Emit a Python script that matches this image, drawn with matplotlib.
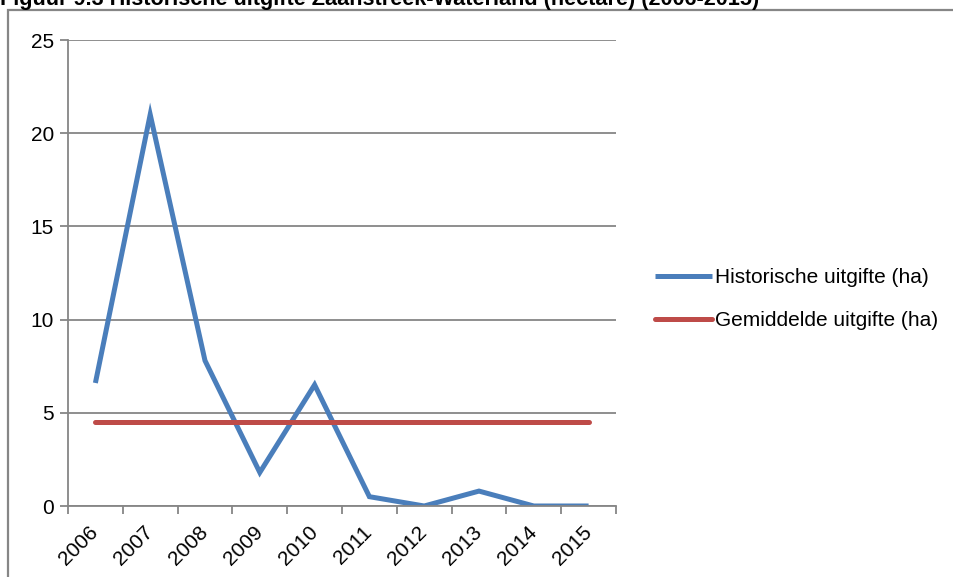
import matplotlib.pyplot as plt
from matplotlib.patches import Rectangle

plt.rcParams['font.family'] = ['Liberation Sans', 'DejaVu Sans']

years = ['2006', '2007', '2008', '2009', '2010', '2011', '2012', '2013', '2014', '2015']
historisch = [6.6, 21.0, 7.8, 1.8, 6.5, 0.5, 0.0, 0.8, 0.0, 0.0]
gemiddeld = [4.5] * len(years)

blue = '#4A7EBB'
red = '#BE4B48'
grey = '#868686'

fig = plt.figure(figsize=(9.54, 5.77), dpi=100)
ax = fig.add_axes([68 / 954, 1 - 506 / 577, (616 - 68) / 954, (506 - 40) / 577])

x = list(range(len(years)))
ax.plot(x, historisch, color=blue, lw=3.6, solid_capstyle='butt',
        solid_joinstyle='miter', label='Historische uitgifte (ha)')
ax.plot(x, gemiddeld, color=red, lw=3.6, solid_capstyle='round',
        label='Gemiddelde uitgifte (ha)')

ax.set_xlim(-0.5, len(years) - 0.5)
ax.set_ylim(0, 25)
ax.set_yticks(range(0, 26, 5))
ax.yaxis.grid(True, color=grey, lw=1.3)
ax.set_axisbelow(True)

# category ticks sit between the years, labels at the centres
ax.set_xticks([i - 0.5 for i in range(len(years) + 1)])
ax.set_xticklabels([])
ax.set_xticks(x, minor=True)
ax.set_xticklabels(years, minor=True, rotation=45, ha='right', va='center',
                   rotation_mode='anchor', fontsize=15)
ax.tick_params(axis='x', which='minor', length=0, pad=17)
ax.tick_params(axis='x', which='major', length=6, width=1.3, color=grey)
ax.tick_params(axis='y', length=6, width=1.3, color=grey, labelsize=15, pad=4)

for side in ['top', 'right']:
    ax.spines[side].set_visible(False)
for side in ['left', 'bottom']:
    ax.spines[side].set_color(grey)
    ax.spines[side].set_linewidth(1.3)

leg = fig.legend(loc='upper left', bbox_to_anchor=(647 / 954, 1 - 260 / 577),
                 frameon=False, fontsize=15, handlelength=2.7, handletextpad=0.15,
                 labelspacing=1.15, borderaxespad=0)

# chart frame and title
fig.add_artist(Rectangle((8 / 954, -0.05), 1.0, 1 - 10 / 577 + 0.05,
                         transform=fig.transFigure, fill=False,
                         edgecolor=grey, lw=1.6))
fig.text(0, 1 - 5 / 577, 'Figuur 9.3 Historische uitgifte Zaanstreek-Waterland (hectare) (2006-2015)',
         fontsize=15.6, fontweight='bold', ha='left', va='baseline')

fig.savefig('out.png', dpi=100)
